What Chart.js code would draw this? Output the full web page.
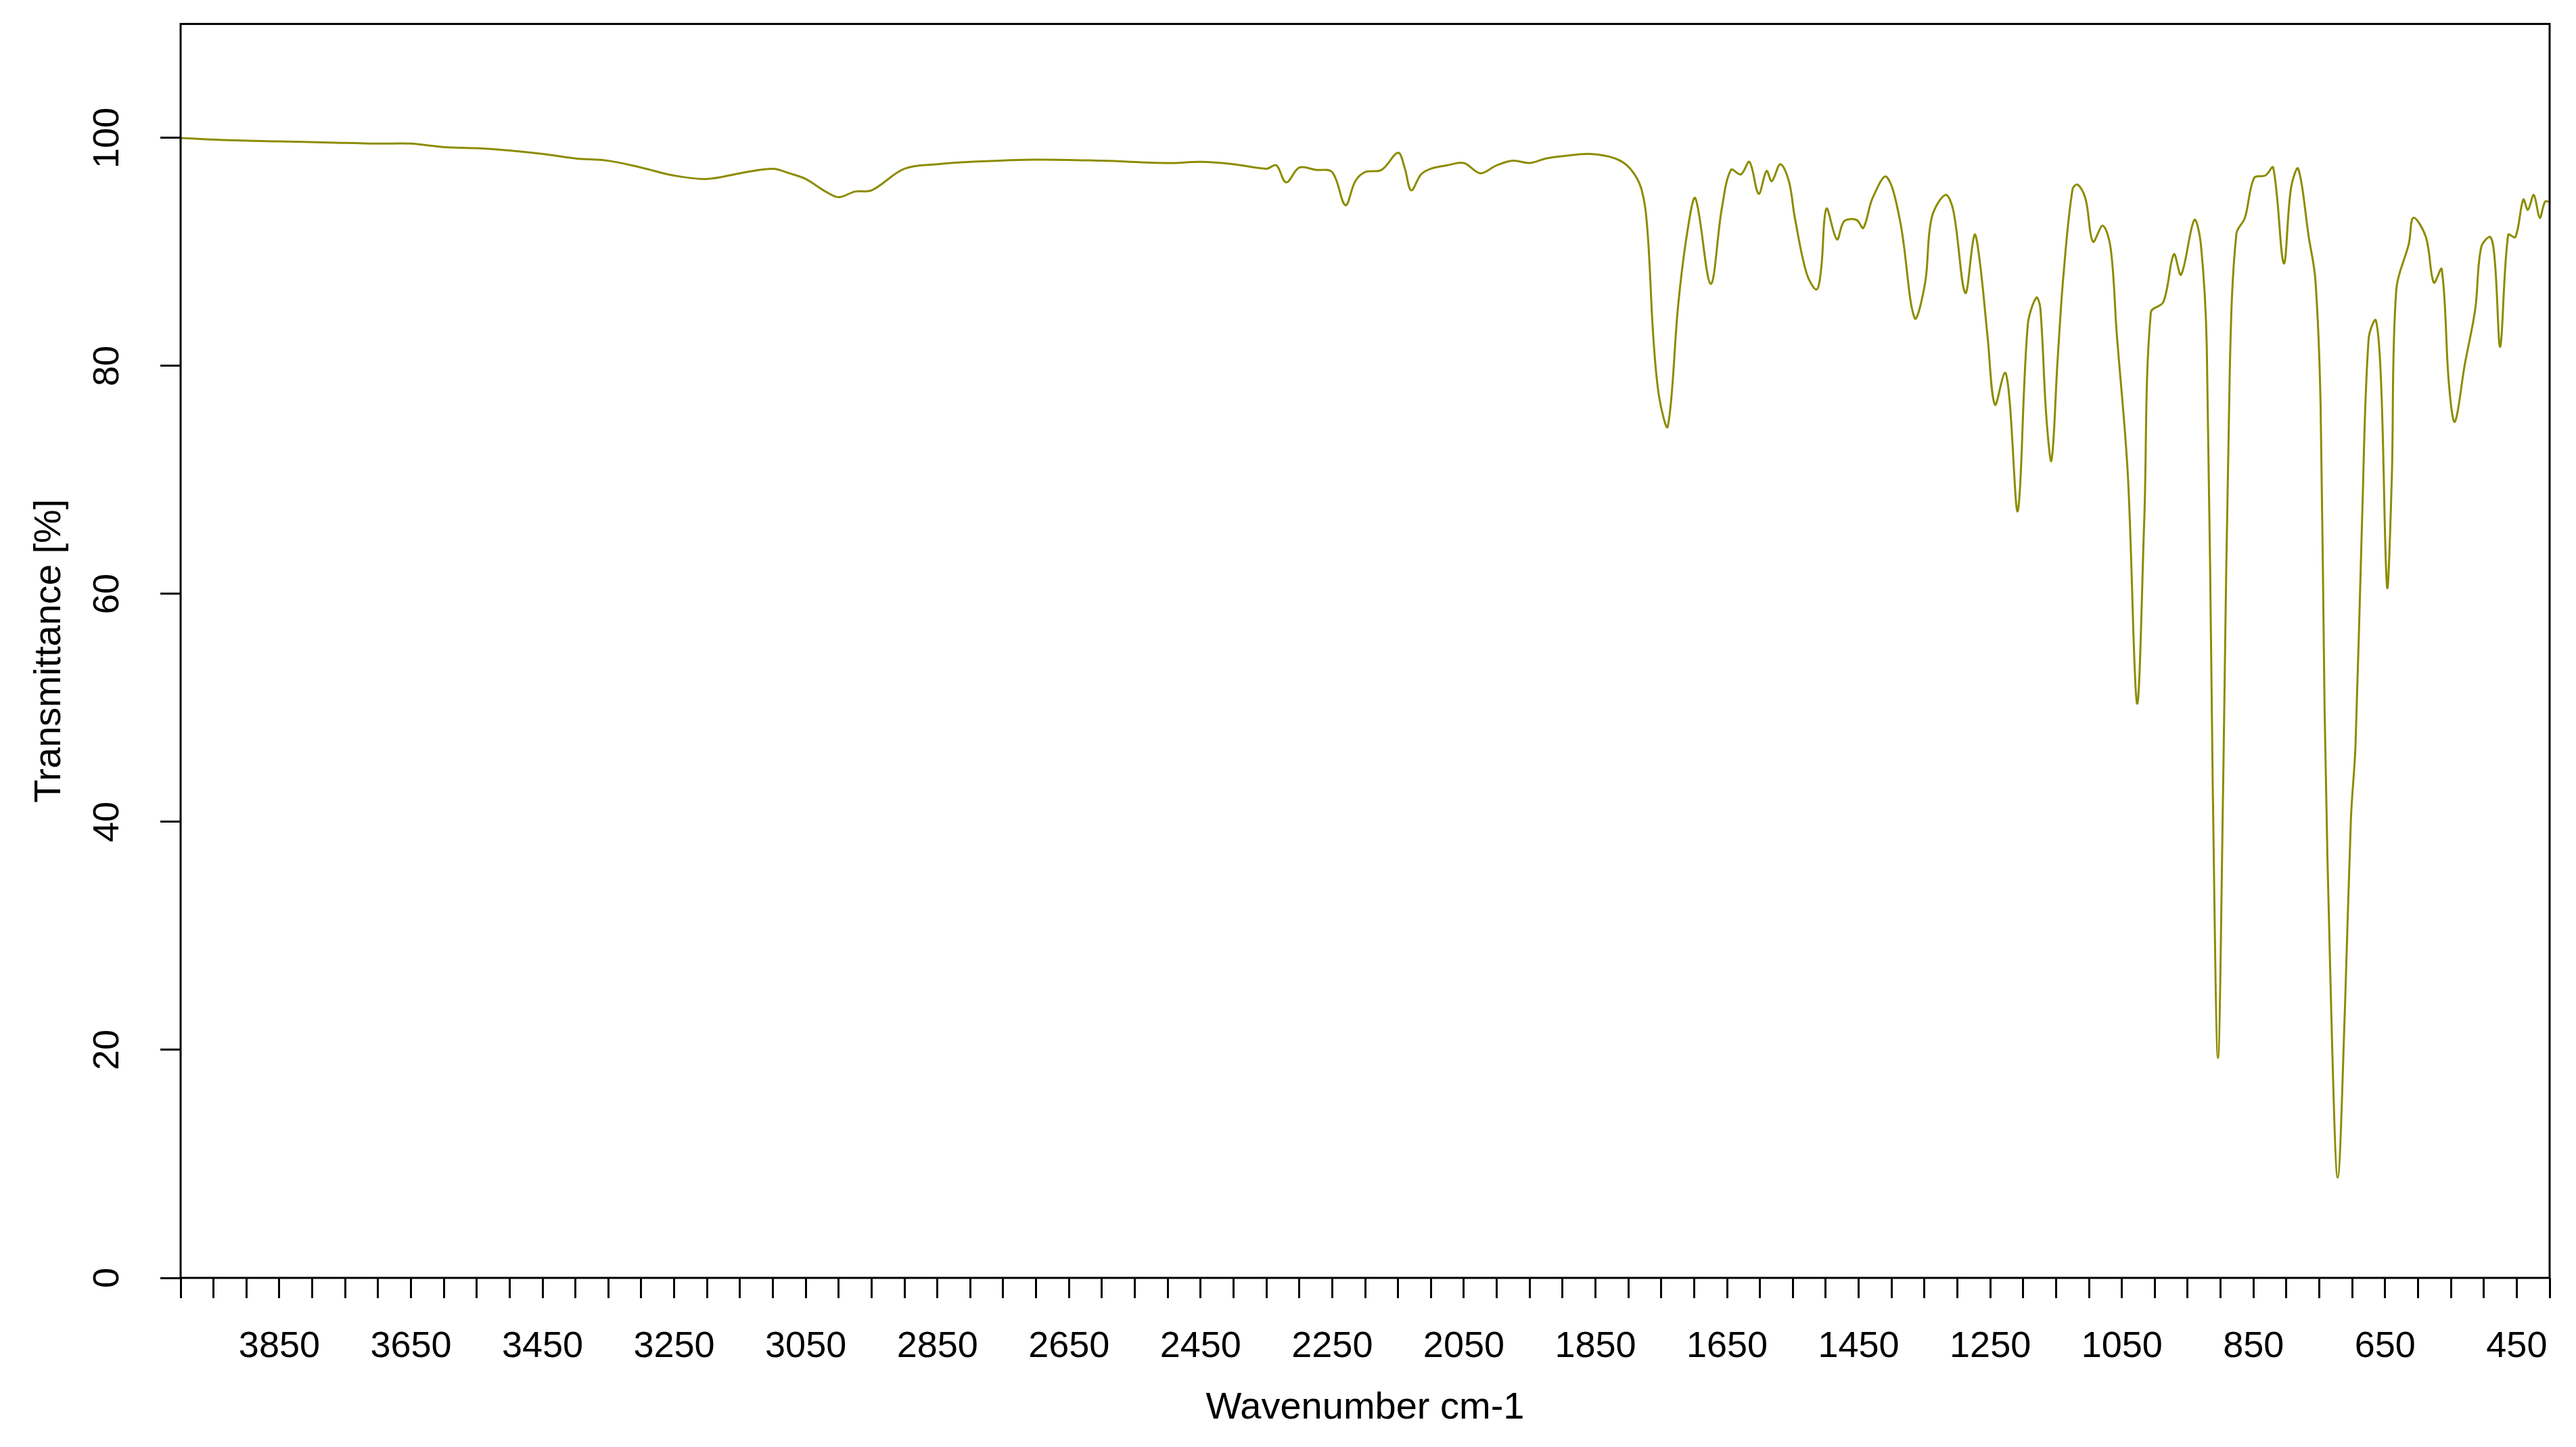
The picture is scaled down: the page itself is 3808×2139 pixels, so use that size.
<!DOCTYPE html>
<html>
<head>
<meta charset="utf-8">
<script src="https://cdn.jsdelivr.net/npm/chart.js@4"></script>
<style>
  html, body { margin: 0; padding: 0; background: #fff; }
  #wrap { width: 3808px; height: 2139px; }
</style>
</head>
<body>
<div id="wrap"><canvas id="chart"></canvas></div>
<script>
var wavenumbers = [4000, 3925, 3850, 3775, 3700, 3650, 3600, 3550, 3500, 3450, 3400, 3350, 3300, 3250, 3200, 3150, 3100, 3075, 3050, 3020, 3000, 2975, 2950, 2900, 2850, 2800, 2700, 2600, 2500, 2450, 2400, 2350, 2335, 2320, 2300, 2275, 2250, 2230, 2215, 2200, 2175, 2150, 2140, 2130, 2115, 2100, 2075, 2050, 2025, 2000, 1975, 1950, 1925, 1900, 1859,
  1820, 1797, 1780, 1771, 1762, 1753, 1740, 1724, 1710, 1698, 1675, 1658, 1644, 1629, 1616, 1602, 1590, 1582, 1569, 1556, 1547, 1529, 1514, 1507, 1499, 1483, 1472, 1453, 1443, 1429, 1408, 1387, 1365, 1349, 1339, 1318, 1306, 1288, 1274, 1266, 1254, 1243, 1228, 1221, 1208, 1193, 1180, 1174, 1165, 1157, 1148, 1139, 1125,
  1117, 1105, 1094, 1079, 1067, 1058, 1041, 1027, 1016, 1006, 987, 971, 960, 940, 930, 921, 912, 904, 896, 886, 876, 863, 849, 832, 820, 804, 793, 782, 766, 756, 748, 742, 732, 722, 711, 702, 695, 685, 675, 664, 656, 647, 640, 633, 614, 607, 588, 576, 564, 553, 544, 529, 513, 504, 490, 483, 475, 463, 452, 440, 433, 424, 415, 407, 400];
var transmittance = [100, 99.8, 99.7, 99.6, 99.5, 99.5, 99.2, 99.1, 98.9, 98.6, 98.2, 98.0, 97.4, 96.7, 96.4, 96.9, 97.3, 96.9, 96.4, 95.3, 94.8, 95.3, 95.4, 97.3, 97.7, 97.9, 98.1, 98.0, 97.8, 97.9, 97.7, 97.3, 97.6, 96.1, 97.4, 97.2, 97.0, 94.1, 96.2, 97.0, 97.2, 98.7, 97.4, 95.4, 96.8, 97.3, 97.6, 97.8, 96.9, 97.6, 98.0, 97.8, 98.2, 98.4, 98.6,
  98.2, 97.3, 95.5, 91.9, 82.5, 77.2, 74.7, 85.5, 91.9, 94.7, 87.2, 93.8, 97.2, 96.8, 97.9, 95.1, 97.1, 96.2, 97.7, 96.2, 93.0, 88.1, 86.7, 88.5, 93.8, 91.1, 92.7, 92.8, 92.1, 94.7, 96.6, 92.7, 84.2, 87.3, 93.0, 95.0, 93.6, 86.4, 91.5, 89.2, 82.5, 76.6, 79.4, 77.2, 67.3, 83.6, 86.0, 85.1, 75.7, 71.7, 80.2, 87.8, 95.5,
  95.9, 94.6, 90.9, 92.3, 90.3, 83.0, 70.5, 50.4, 66.5, 84.7, 85.6, 89.8, 88.0, 92.8, 90.7, 81.7, 43.5, 19.3, 43.5, 79.7, 91.6, 93.0, 96.5, 96.7, 97.4, 89.0, 95.6, 97.3, 91.3, 87.6, 76.5, 50.0, 23.7, 8.8, 23.7, 40.2, 46.7, 66.5, 82.4, 84.0, 78.4, 60.6, 69.8, 86.7, 90.7, 93.0, 91.3, 87.3, 88.5, 78.4, 75.1, 80.1, 85.0, 90.4, 91.3, 89.0, 81.7, 91.5, 91.3, 94.6, 93.7, 95.0, 93.0, 94.4, 94.4];
var yTicks = [0, 20, 40, 60, 80, 100];

var points = [];
for (var i = 0; i < wavenumbers.length; i++) {
    points.push({ x: wavenumbers[i], y: transmittance[i] });
}

var fontFamily = "'Liberation Sans', Arial, sans-serif";

// box around plot area + rotated y tick labels (R style)
var framePlugin = {
    id: "frame",
    afterDraw: function(chart) {
        var ctx = chart.ctx, a = chart.chartArea, ys = chart.scales.y;
        ctx.save();
        ctx.strokeStyle = "#000";
        ctx.lineWidth = 3;
        ctx.strokeRect(a.left, a.top, a.right - a.left, a.bottom - a.top);
        ctx.fillStyle = "#000";
        ctx.font = "54px " + fontFamily;
        ctx.textAlign = "center";
        ctx.textBaseline = "middle";
        yTicks.forEach(function(v) {
            var py = ys.getPixelForValue(v);
            ctx.save();
            ctx.translate(160, py);
            ctx.rotate(-Math.PI / 2);
            ctx.fillText(String(v), 0, 0);
            ctx.restore();
        });
        ctx.restore();
    }
};

var config = {
    type: "line",
    data: {
        datasets: [{
            data: points,
            borderColor: "#8c8c00",
            borderWidth: 3,
            pointRadius: 0,
            tension: 0.35,
            fill: false
        }]
    },
    options: {
        responsive: true,
        maintainAspectRatio: false,
        animation: false,
        layout: { padding: { top: 25, right: 39, left: 0, bottom: 0 } },
        plugins: { legend: { display: false }, tooltip: { enabled: false } },
        scales: {
            x: {
                type: "linear",
                reverse: true,
                min: 400,
                max: 4000,
                afterFit: function(s) { s.height = 250; },
                afterBuildTicks: function(s) {
                    var t = [];
                    for (var v = 400; v <= 4000; v += 50) t.push({ value: v });
                    s.ticks = t;
                },
                border: { display: false },
                grid: { drawOnChartArea: false, drawTicks: true, tickLength: 30, color: "#000", lineWidth: 3 },
                ticks: {
                    autoSkip: false,
                    maxRotation: 0,
                    padding: 40,
                    color: "#000",
                    font: { family: fontFamily, size: 54 },
                    callback: function(v) { return ((v - 450) % 200 === 0) ? String(v) : ""; }
                },
                title: {
                    display: true,
                    text: "Wavenumber cm-1",
                    color: "#000",
                    font: { family: fontFamily, size: 56 },
                    padding: { top: 14, bottom: 24 }
                }
            },
            y: {
                min: 0,
                max: 110,
                afterFit: function(s) { s.width = 267; },
                afterBuildTicks: function(s) {
                    s.ticks = yTicks.map(function(v) { return { value: v }; });
                },
                border: { display: false },
                grid: { drawOnChartArea: false, drawTicks: true, tickLength: 30, color: "#000", lineWidth: 3 },
                ticks: { color: "rgba(0,0,0,0)", font: { family: fontFamily, size: 54 } },
                title: {
                    display: true,
                    text: "Transmittance [%]",
                    color: "#000",
                    font: { family: fontFamily, size: 56 },
                    padding: { top: 40, bottom: 0 }
                }
            }
        }
    },
    plugins: [framePlugin]
};

var ctx = document.getElementById("chart").getContext("2d");
var oneChart = new Chart(ctx, config);
</script>
</body>
</html>
